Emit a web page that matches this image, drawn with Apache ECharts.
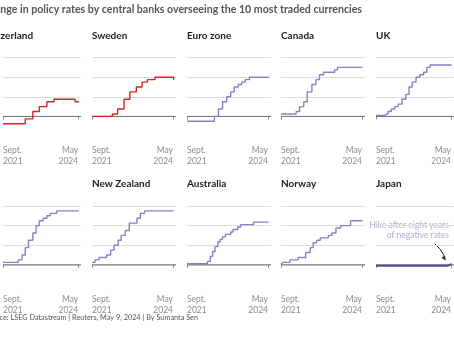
<!DOCTYPE html>
<html>
<head>
<meta charset="utf-8">
<script src="https://cdn.jsdelivr.net/npm/echarts@6/dist/echarts.min.js"></script>
<style>
  html, body { margin: 0; padding: 0; background: #ffffff; }
  #chart { width: 454px; height: 341px; }
</style>
</head>
<body>
<div id="chart"></div>
<script>
// Policy rate changes (%) by central bank, Sept. 2021 - May 2024
const titleText = 'Change in policy rates by central banks overseeing the 10 most traded currencies';
const sourceText = 'Source: LSEG Datastream | Reuters, May 9, 2024 | By Sumanta Sen';

const panelNames = ['Switzerland', 'Sweden', 'Euro zone', 'Canada', 'UK',
                    'U.S.', 'New Zealand', 'Australia', 'Norway', 'Japan'];

const swissDates = ['2021-09-01','2022-06-16','2022-09-22','2022-12-15','2023-03-23','2023-06-22','2024-03-21','2024-05-09'];
const swissRates = [-0.75, -0.25, 0.5, 1.0, 1.5, 1.75, 1.5, 1.5];

const swedenDates = ['2021-09-01','2022-05-04','2022-07-06','2022-09-21','2022-11-30','2023-02-15','2023-04-26','2023-06-29','2023-09-27','2024-05-08','2024-05-09'];
const swedenRates = [0, 0.25, 0.75, 1.75, 2.5, 3.0, 3.5, 3.75, 4.0, 3.75, 3.75];

const euroDates = ['2021-09-01','2022-07-27','2022-09-14','2022-11-02','2022-12-21','2023-02-08','2023-03-22','2023-05-10','2023-06-21','2023-08-02','2023-09-20','2024-05-09'];
const euroRates = [-0.5, 0, 0.75, 1.5, 2.0, 2.5, 3.0, 3.25, 3.5, 3.75, 4.0, 4.0];

const canadaDates = ['2021-09-01','2022-03-02','2022-04-13','2022-06-01','2022-07-13','2022-09-07','2022-10-26','2022-12-07','2023-01-25','2023-06-07','2023-07-12','2024-05-09'];
const canadaRates = [0.25, 0.5, 1.0, 1.5, 2.5, 3.25, 3.75, 4.25, 4.5, 4.75, 5.0, 5.0];

const ukDates = ['2021-09-01','2021-12-16','2022-02-03','2022-03-17','2022-05-05','2022-06-16','2022-08-04','2022-09-22','2022-11-03','2022-12-15','2023-02-02','2023-03-23','2023-05-11','2023-06-22','2023-08-03','2024-05-09'];
const ukRates = [0.1, 0.25, 0.5, 0.75, 1.0, 1.25, 1.75, 2.25, 3.0, 3.5, 4.0, 4.25, 4.5, 5.0, 5.25, 5.25];

const usDates = ['2021-09-01','2022-03-17','2022-05-05','2022-06-16','2022-07-28','2022-09-22','2022-11-03','2022-12-15','2023-02-02','2023-03-23','2023-05-04','2023-07-27','2024-05-09'];
const usRates = [0.25, 0.5, 1.0, 1.75, 2.5, 3.25, 4.0, 4.5, 4.75, 5.0, 5.25, 5.5, 5.5];

const nzDates = ['2021-09-01','2021-10-06','2021-11-24','2022-02-23','2022-04-13','2022-05-25','2022-07-13','2022-08-17','2022-10-05','2022-11-23','2023-02-22','2023-04-05','2023-05-24','2024-05-09'];
const nzRates = [0.25, 0.5, 0.75, 1.0, 1.5, 2.0, 2.5, 3.0, 3.5, 4.25, 4.75, 5.25, 5.5, 5.5];

const ausDates = ['2021-09-01','2022-05-04','2022-06-08','2022-07-06','2022-08-03','2022-09-07','2022-10-05','2022-11-02','2022-12-07','2023-02-08','2023-03-08','2023-05-03','2023-06-07','2023-11-08','2024-05-09'];
const ausRates = [0.1, 0.35, 0.85, 1.35, 1.85, 2.35, 2.6, 2.85, 3.1, 3.35, 3.6, 3.85, 4.1, 4.35, 4.35];

const norwayDates = ['2021-09-01','2021-09-24','2021-12-17','2022-03-25','2022-06-24','2022-08-19','2022-09-23','2022-11-04','2022-12-16','2023-03-24','2023-05-05','2023-06-23','2023-08-18','2023-12-15','2024-05-09'];
const norwayRates = [0, 0.25, 0.5, 0.75, 1.25, 1.75, 2.25, 2.5, 2.75, 3.0, 3.25, 3.75, 4.0, 4.5, 4.5];

const japanDates = ['2021-09-01','2024-03-19','2024-05-09'];
const japanRates = [-0.1, 0.1, 0.1];

const panelDates = [swissDates, swedenDates, euroDates, canadaDates, ukDates,
                    usDates, nzDates, ausDates, norwayDates, japanDates];
const panelRates = [swissRates, swedenRates, euroRates, canadaRates, ukRates,
                    usRates, nzRates, ausRates, norwayRates, japanRates];

const tickDates = ['2021-09-01', '2024-05-01'];
const tickLabels = ['Sept.\n2021', 'May\n2024'];
const yTicks = [-2, 0, 2, 4, 6];
const xRange = ['2021-09-01', '2024-06-06'];

const annotationLines = ['Hike after eight years \u2013', 'of negative rates'];

// ---- layout / style ----
const FONT = 'Lato, "Noto Sans", sans-serif';
const RED = '#d8222b';
const PURPLE = '#8a80c6';
const JAPAN = '#564d8c';
const colLeft = [-3, 92, 187, 281, 376];
const rowTop = [57.6, 206];
const plotW = 84;
const plotH = 78.4;

function ts(d) { return new Date(d + 'T00:00:00Z').getTime(); }

const grids = [], xAxes = [], yAxes = [], series = [], graphics = [];

panelNames.forEach(function (name, i) {
  const row = Math.floor(i / 5), col = i % 5;
  grids.push({ left: colLeft[col], top: rowTop[row], width: plotW, height: plotH, containLabel: false });
  // dates as millisecond values on a linear axis, ticks only at the two labelled months
  xAxes.push({
    gridIndex: i, type: 'value',
    min: ts(xRange[0]), max: ts(xRange[1]),
    axisLine: { show: false },
    splitLine: { show: false },
    axisTick: { show: true, customValues: tickDates.map(ts), length: 3, lineStyle: { color: '#888', width: 1 } },
    axisLabel: {
      show: true, customValues: tickDates.map(ts),
      formatter: function (v) {
        let k = 0, best = Infinity;
        tickDates.forEach(function (d, j) { const dd = Math.abs(ts(d) - v); if (dd < best) { best = dd; k = j; } });
        return tickLabels[k];
      },
      alignMinLabel: 'left', alignMaxLabel: 'right',
      color: '#8c8c8c', fontFamily: FONT, fontSize: 8.5, lineHeight: 11, margin: 9,
      hideOverlap: false
    }
  });
  yAxes.push({
    gridIndex: i, type: 'value', min: yTicks[0], max: yTicks[yTicks.length - 1], interval: 2,
    axisLine: { show: false }, axisTick: { show: false }, axisLabel: { show: false },
    splitLine: { show: true, showMinLine: false, lineStyle: { color: '#dcdcdc', width: 1 } }
  });
  // zero baseline
  series.push({
    type: 'line', xAxisIndex: i, yAxisIndex: i, z: 1, silent: true, symbol: 'none',
    lineStyle: { color: '#707070', width: 1 },
    data: [[ts(xRange[0]), 0], [ts(xRange[1]), 0]]
  });
  const color = i < 2 ? RED : (i === 9 ? JAPAN : PURPLE);
  series.push({
    type: 'line', xAxisIndex: i, yAxisIndex: i, z: 3, step: 'end', symbol: 'none',
    name: name,
    lineStyle: { color: color, width: i === 9 ? 2 : 1.4 },
    data: panelDates[i].map(function (d, j) { return [ts(d), panelRates[i][j]]; })
  });
  // panel title
  graphics.push({
    type: 'text', x: col === 0 ? -19 : colLeft[col], y: row === 0 ? 36 : 184,
    style: { text: name, fill: '#222', font: 'bold 10px ' + FONT, textVerticalAlign: 'middle' }
  });
});

graphics.push({
  type: 'text', x: 362, y: 10,
  style: { text: titleText, fill: '#555', font: 'bold 10.6px ' + FONT, textAlign: 'right', textVerticalAlign: 'middle' }
});
graphics.push({
  type: 'text', x: 198, y: 318,
  style: { text: sourceText, fill: '#555', font: '7.3px ' + FONT, textAlign: 'right', textVerticalAlign: 'middle' }
});
graphics.push({
  type: 'text', x: 456, y: 225,
  style: { text: annotationLines[0], fill: '#b2abd8', font: '8.5px ' + FONT, textAlign: 'right', textVerticalAlign: 'middle' }
});
graphics.push({
  type: 'text', x: 449, y: 235,
  style: { text: annotationLines[1], fill: '#b2abd8', font: '8.5px ' + FONT, textAlign: 'right', textVerticalAlign: 'middle' }
});

const chart = echarts.init(document.getElementById('chart'), null, { renderer: 'canvas' });
chart.setOption({
  animation: false,
  backgroundColor: '#ffffff',
  grid: grids, xAxis: xAxes, yAxis: yAxes, series: series, graphic: graphics
});

// arrow pointing at the Japan hike
const hike = chart.convertToPixel({ gridIndex: 9 }, [ts(japanDates[1]), japanRates[1]]);
const tipX = hike[0] - 2, tipY = hike[1] - 3;
const startX = tipX - 11, startY = tipY - 17;
chart.setOption({
  graphic: graphics.concat([
    {
      type: 'bezierCurve', silent: true,
      shape: { x1: startX, y1: startY, x2: tipX - 1, y2: tipY - 4, cpx1: startX + 6, cpy1: startY + 4 },
      style: { stroke: '#222', lineWidth: 1, fill: null }
    },
    {
      type: 'polygon', silent: true,
      shape: { points: [[tipX, tipY], [tipX - 4.2, tipY - 3.2], [tipX - 0.6, tipY - 5]] },
      style: { fill: '#222' }
    }
  ])
});
</script>
</body>
</html>
